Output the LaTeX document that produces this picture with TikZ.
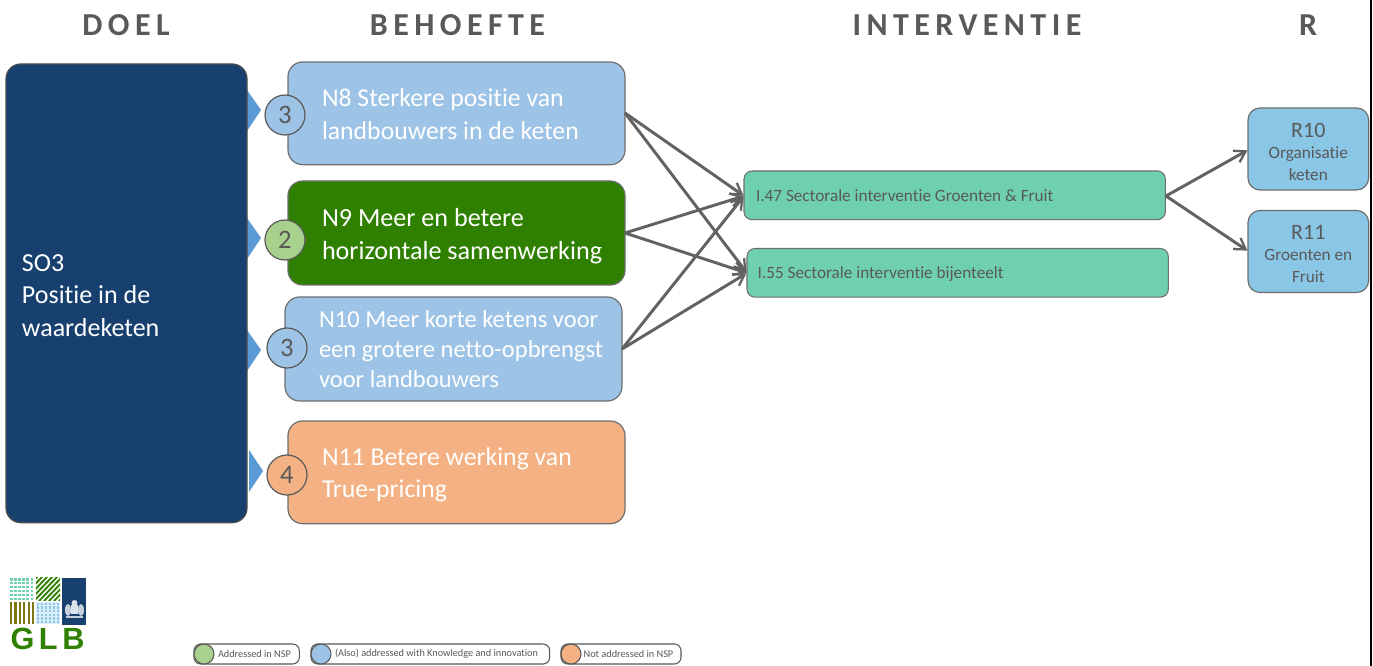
\documentclass[tikz,border=0pt]{standalone}
\usepackage{fontspec}
\setmainfont[Ligatures=NoCommon]{Carlito}
\usetikzlibrary{arrows.meta}
\definecolor{navy}{HTML}{17406F}
\definecolor{lblue}{HTML}{9DC3E6}
\definecolor{dgreen}{HTML}{2F8000}
\definecolor{lgreen}{HTML}{A9D18E}
\definecolor{orng}{HTML}{F4B183}
\definecolor{teal}{HTML}{6FD0B0}
\definecolor{rblue}{HTML}{8AC6E6}
\definecolor{greytx}{HTML}{595959}
\definecolor{edge}{HTML}{6E6E6E}
\definecolor{connc}{HTML}{626262}
\definecolor{tri}{HTML}{5B9BD5}
\newfontface\headfont[LetterSpace=17]{Carlito Bold}
\newfontface\glbfont[LetterSpace=15]{Liberation Sans Bold}
\tikzset{
  x=0.75pt,y=-0.75pt,
  every node/.append style={outer sep=0pt},
  head/.style={text=greytx,anchor=center,inner sep=0pt},
  needbox/.style={draw=edge,line width=0.9pt,rounded corners=11pt,inner sep=0pt,text=white,align=left,
    anchor=north west,font=\fontsize{19.3}{24.3}\selectfont},
  intbox/.style={draw=edge,line width=0.8pt,rounded corners=6pt,fill=teal,inner sep=0pt,text=greytx,align=left,
    anchor=north west,font=\fontsize{12.9}{15}\selectfont,minimum width=316pt,minimum height=36.5pt},
  resbox/.style={draw=edge,line width=0.9pt,rounded corners=9pt,fill=rblue,inner sep=0pt,text=greytx,align=center,
    anchor=north west,minimum width=90.5pt,minimum height=61.5pt,font=\fontsize{12.9}{16}\selectfont},
  num/.style={circle,draw=greytx,line width=0.9pt,minimum size=30pt,inner sep=0pt,text=greytx,font=\fontsize{20}{22}\selectfont},
  tria/.style={fill=tri,draw=none},
  conn/.style={draw=connc,line width=2.2pt,-{Straight Barb[length=8pt,width=10pt,line width=1.7pt]},shorten >=0.5pt},
  pill/.style={draw=greytx,line width=0.8pt,rounded corners=5pt,fill=white,anchor=west,inner sep=0pt,minimum height=15pt,text=greytx,font=\fontsize{7.7}{9}\selectfont},
  dotc/.style={circle,draw=greytx,line width=0.8pt,minimum size=15pt,inner sep=0pt},
}
\newcommand{\resbig}[1]{{\fontsize{16.5}{18}\selectfont #1}}
\begin{document}
\begin{tikzpicture}
\useasboundingbox (0,0) rectangle (1373,666);
\fill[white] (0,0) rectangle (1373,666);
\draw[black,line width=1.2pt] (1371,0) -- (1371,666);
% headers
\node[head] (hd) at (126,25) {\fontsize{24}{27}\headfont DOEL};
\node[head] (hb) at (457.5,25) {\fontsize{24}{27}\headfont BEHOEFTE};
\node[head] (hi) at (967,25) {\fontsize{24}{27}\headfont INTERVENTIE};
\node[head] (hr) at (1308,25) {\fontsize{24}{27}\headfont R};
% triangles
\fill[tria] (247,90) -- (261,110) -- (247,131) -- cycle;
\fill[tria] (247,218) -- (261,238) -- (247,259) -- cycle;
\fill[tria] (247,330) -- (261,350) -- (247,371) -- cycle;
\fill[tria] (249,450) -- (263,471) -- (249,492) -- cycle;
% goal
\node[draw=edge!70!black,line width=0.9pt,rounded corners=11pt,fill=navy,text=white,inner sep=0pt,anchor=north west,
  minimum width=180.75pt,minimum height=344pt,align=left,font=\fontsize{19.5}{24.3}\selectfont] (so) at (6,64)
  {\hspace*{12pt}\parbox{168.75pt}{\vspace*{3pt}SO3\\Positie in de\\waardeketen}};
% needs
\node[needbox,fill=lblue,minimum width=252.75pt,minimum height=77pt] (n8) at (288,62)
  {\hspace*{25.5pt}\parbox{227.25pt}{\vspace*{1.5pt}N8 Sterkere positie van\\landbouwers in de keten}};
\node[needbox,fill=dgreen,minimum width=252.75pt,minimum height=78pt,font=\fontsize{19.6}{24.3}\selectfont] (n9) at (288,181)
  {\hspace*{25.5pt}\parbox{227.25pt}{\vspace*{4.5pt}N9 Meer en betere\\horizontale samenwerking}};
\node[needbox,fill=lblue,minimum width=252.75pt,minimum height=78pt,font=\fontsize{18.4}{22.2}\selectfont] (n10) at (285,297)
  {\hspace*{25.5pt}\parbox{227.25pt}{N10 Meer korte ketens voor\\een grotere netto-opbrengst\\voor landbouwers}};
\node[needbox,fill=orng,minimum width=252.75pt,minimum height=77pt] (n11) at (288,421)
  {\hspace*{25.5pt}\parbox{227.25pt}{\vspace*{3.75pt}N11 Betere werking van\\True-pricing}};
% circles
\node[num,fill=lblue] (c1) at (285,115) {3};
\node[num,fill=lgreen] (c2) at (285,240) {2};
\node[num,fill=lblue] (c3) at (287,348) {3};
\node[num,fill=orng] (c4) at (287,475) {4};
% interventions
\node[intbox] (i47) at (744,171) {\hspace*{9pt}\parbox{307pt}{\vspace*{0.8pt}I.47 Sectorale interventie Groenten \& Fruit}};
\node[intbox] (i55) at (747,248.5) {\hspace*{8pt}\parbox{308pt}{\vspace*{2pt}I.55 Sectorale interventie bijenteelt}};
% results
\node[resbox] (r10) at (1248,108) {\parbox{90pt}{\vspace*{4pt}\centering\resbig{R10}\\Organisatie\\keten}};
\node[resbox] (r11) at (1248,210.5) {\parbox{90pt}{\vspace*{3.5pt}\centering\resbig{R11}\\Groenten en\\Fruit}};
% connectors
\coordinate (n8o) at (625,113);
\coordinate (n9o) at (625,233);
\coordinate (n10o) at (622,349);
\coordinate (i47i) at (744,196);
\coordinate (i55i) at (747,273);
\coordinate (i47o) at (1166,196);
\coordinate (r10i) at (1248,150);
\coordinate (r11i) at (1248,251);
\draw[conn] (n8o) -- (i47i);
\draw[conn] (n8o) -- (i55i);
\draw[conn] (n9o) -- (i47i);
\draw[conn] (n9o) -- (i55i);
\draw[conn] (n10o) -- (i47i);
\draw[conn] (n10o) -- (i55i);
\draw[conn] (i47o) -- (r10i);
\draw[conn] (i47o) -- (r11i);
% legend
\node[pill,minimum width=79pt] (p1) at (194,654) {\hspace*{18pt}\parbox{61pt}{Addressed in NSP}};
\node[dotc,fill=lgreen] (d1) at (204,654) {};
\node[pill,minimum width=179pt] (p2) at (311,654) {\hspace*{18pt}\parbox{161pt}{(Also) addressed with Knowledge and innovation}};
\node[dotc,fill=lblue] (d2) at (321,654) {};
\node[pill,minimum width=90pt] (p3) at (561,654) {\hspace*{17pt}\parbox{73pt}{Not addressed in NSP}};
\node[dotc,fill=orng] (d3) at (571,654) {};
% logo
\foreach \i in {0,...,5}{\foreach \j in {0,...,5}{
  \fill[teal] (10+4.1*\i,578+3.9*\j) rectangle ++(2.5,2.5);}}
\fill[rblue!30] (36,602) rectangle (60,624);
\foreach \i in {0,...,5}{\foreach \j in {0,...,5}{
  \fill[rblue] (36.5+4*\i,602.5+3.7*\j) rectangle ++(2.6,2.4);}}
\foreach \i in {0,...,5}{\fill[olive!85!black] (10+4.4*\i,602) rectangle ++(2.2,22);}
\begin{scope}
\clip (36,577) rectangle (60,600);
\foreach \i in {0,...,10}{\draw[dgreen,line width=1.4pt] (14+5*\i,601) -- (38+5*\i,576);}
\end{scope}
\fill[navy] (62,577.5) rectangle (85.5,625);
\fill[white!85!navy] (71,605) rectangle (78,614);
\fill[white!85!navy] (74.5,603) circle[radius=3];
\fill[white!75!navy] (68,610) ellipse[x radius=3,y radius=6];
\fill[white!75!navy] (81,610) ellipse[x radius=3,y radius=6];
\fill[white!75!navy] (66,616) rectangle (83,618);
\node[inner sep=0pt,text=dgreen] (glb) at (47.5,639) {\fontsize{23}{25}\glbfont GLB};
\end{tikzpicture}
\end{document}
